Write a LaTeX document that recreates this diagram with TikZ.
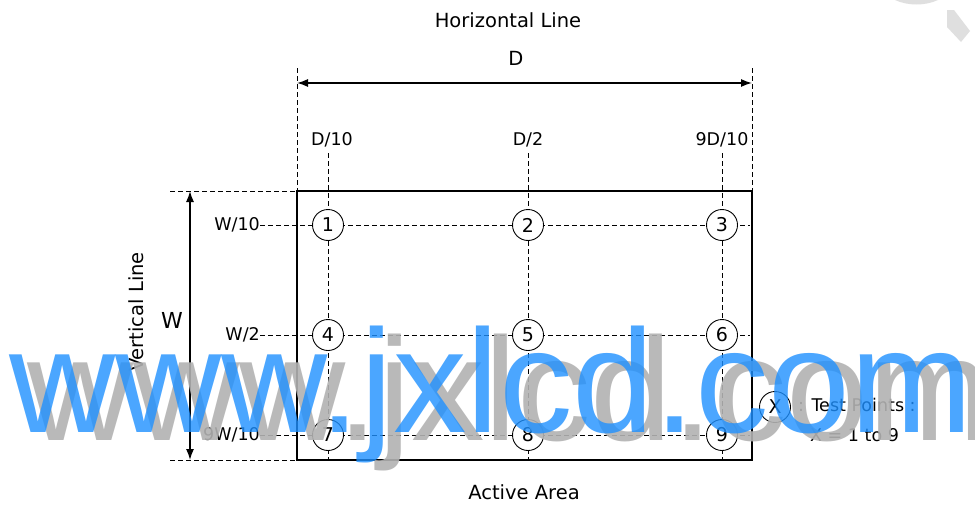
\documentclass[tikz,border=0pt]{standalone}
\usepackage{fontspec}
\setmainfont{DejaVu Sans}
\newfontfamily\wmfont{Liberation Sans}
\usetikzlibrary{arrows.meta}
\begin{document}
\begin{tikzpicture}[x=1pt,y=-1pt,
  guide/.style={line width=0.9pt,dash pattern=on 5pt off 3pt},
  dimline/.style={line width=1.3pt,{Latex[length=11pt,width=8pt]}-{Latex[length=11pt,width=8pt]}},
  lbl/.style={inner sep=0pt,font=\fontsize{17.5}{18}\selectfont},
  big/.style={inner sep=0pt,font=\fontsize{19.5}{20}\selectfont},
  tp/.style={circle,draw,line width=0.9pt,fill=white,minimum size=31pt,inner sep=0pt,font=\fontsize{19}{19}\selectfont},
  wm/.style={inner sep=0pt,anchor=base west,font=\wmfont\fontsize{147}{147}\selectfont}
]
\useasboundingbox (0,0) rectangle (975,506);
\fill[white] (0,0) rectangle (975,506);
% faint fragments top right
\fill[gray!25] (895,0) -- (938,0) .. controls (925,6) and (908,6) .. (895,0) -- cycle;
\fill[gray!25] (947,10) -- (954,10) -- (970,31) -- (961,42) -- (947,27) -- cycle;

% active area frame
\coordinate (tl) at (297,191);
\coordinate (tr) at (752,191);
\coordinate (bl) at (297,460);
\coordinate (br) at (752,460);
\draw[line width=2pt] (tl) rectangle (br);

% horizontal dimension
\coordinate (dl) at (297,68);
\coordinate (dr) at (752,68);
\draw[guide] (dl) -- (tl);
\draw[guide] (dr) -- (tr);
\coordinate (al) at (297,83);
\coordinate (ar) at (752,83);
\draw[dimline] (al) -- (ar);
\node[big] (hl) at (508,20) {Horizontal Line};
\node[big] (dlab) at (516,58) {D};

% vertical dimension
\coordinate (vt) at (170,191);
\coordinate (vb) at (170,460);
\draw[guide] (vt) -- (tl);
\draw[guide] (vb) -- (bl);
\coordinate (wt) at (190,191);
\coordinate (wb) at (190,460);
\draw[dimline] (wt) -- (wb);
\node[inner sep=0pt,font=\fontsize{22}{22}\selectfont] (wlab) at (172,320) {W};
\node[big,rotate=90] (vl) at (136,312) {Vertical Line};

% column labels and guides
\node[lbl] (c1) at (332,140) {D/10};
\node[lbl] (c2) at (528,140) {D/2};
\node[lbl] (c3) at (722,140) {9D/10};
\coordinate (c1t) at (328,153); \coordinate (c1b) at (328,460);
\coordinate (c2t) at (528,153); \coordinate (c2b) at (528,460);
\coordinate (c3t) at (722,153); \coordinate (c3b) at (722,460);
\draw[guide] (c1t) -- (c1b);
\draw[guide] (c2t) -- (c2b);
\draw[guide] (c3t) -- (c3b);

% row labels and guides
\node[lbl,anchor=east] (r1) at (260,225) {W/10};
\node[lbl,anchor=east] (r2) at (260,335) {W/2};
\node[lbl,anchor=east] (r3) at (260,435) {9W/10};
\coordinate (r1e) at (750,225);
\coordinate (r2e) at (750,335);
\coordinate (r3e) at (750,435);
\draw[guide] (r1.east) -- (r1e);
\draw[guide] (r2.east) -- (r2e);
\draw[guide] (r3.east) -- (r3e);

% test points
\node[tp] (p1) at (328,225) {1};
\node[tp] (p2) at (528,225) {2};
\node[tp] (p3) at (722,225) {3};
\node[tp] (p4) at (328,335) {4};
\node[tp] (p5) at (528,335) {5};
\node[tp] (p6) at (722,335) {6};
\node[tp] (p7) at (328,435) {7};
\node[tp] (p8) at (528,435) {8};
\node[tp] (p9) at (722,435) {9};

% legend
\node[tp] (px) at (775,407) {X};
\node[lbl,anchor=west] (leg1) at (798,405) {: Test Points :};
\node[lbl,anchor=west] (leg2) at (810,435) {X = 1 to 9};

\node[big] (aa) at (524,492) {Active Area};

% watermark
\node[wm,text=black!30,text opacity=0.9] (wmg) at (27,440) {www.jxlcd.com};
\node[wm,text={rgb,255:red,30;green,144;blue,255},text opacity=0.8] (wmb) at (9,432) {www.jxlcd.com};
\end{tikzpicture}
\end{document}
